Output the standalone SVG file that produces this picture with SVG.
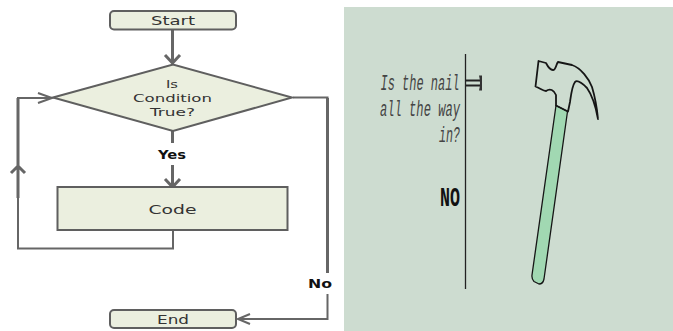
<svg xmlns="http://www.w3.org/2000/svg" width="673" height="331" viewBox="0 0 673 331">
<style>
.box{fill:#ebefdf;stroke:#5f5f5f;stroke-width:2}
.wire{fill:none;stroke:#666;stroke-width:2}
.thick{stroke-width:3}
.ft{font-family:"DejaVu Sans",Verdana,sans-serif;font-size:12.5px;fill:#333;text-anchor:middle}
.small{font-size:11px}
.yn{font-family:"DejaVu Sans",Verdana,sans-serif;font-size:11.5px;font-weight:bold;fill:#111;text-anchor:middle}
.mono{font-family:"Liberation Mono",monospace;font-size:22px;font-style:italic;fill:#444}
.ink{stroke:#161616;stroke-linejoin:round;stroke-linecap:round}
</style>
<rect width="673" height="331" fill="#fff"/>
<!-- flowchart connectors -->
<g id="connectors">
<path class="wire thick" d="M172.500 29V63M165 55L172.500 63L180 55"/>
<path class="wire thick" d="M172.500 131V143M172.500 165V186M165 179L172.500 187L180 179"/>
<path class="wire" d="M173 230V248.500H18V98H52M38 93L52 98L38 103"/>
<path class="wire thick" d="M18 198V98M11 173L18 166L25 173"/>
<path class="wire" d="M293 97.500H327.500V273M327.500 294V319H238M250 314L238 319L250 324"/>
<path class="wire thick" d="M327.500 98V273"/>
</g>
<!-- flowchart nodes -->
<g id="start">
<rect class="box" x="110" y="11" width="126" height="18.500" rx="4"/>
<text class="ft" x="173" y="25" textLength="44" lengthAdjust="spacingAndGlyphs">Start</text>
</g>
<g id="condition">
<polygon class="box" points="53,97.500 173,64.500 292,97.500 173,131"/>
<text class="ft small" x="172" y="88" textLength="12" lengthAdjust="spacingAndGlyphs">Is</text>
<text class="ft small" x="172.500" y="102" textLength="79" lengthAdjust="spacingAndGlyphs">Condition</text>
<text class="ft small" x="172.500" y="115.500" textLength="45" lengthAdjust="spacingAndGlyphs">True?</text>
</g>
<g id="yes"><text class="yn" x="172" y="159" textLength="28" lengthAdjust="spacingAndGlyphs">Yes</text></g>
<g id="code">
<rect class="box" x="57.500" y="187" width="230" height="43"/>
<text class="ft" x="172.500" y="214" textLength="48" lengthAdjust="spacingAndGlyphs">Code</text>
</g>
<g id="no"><text class="yn" x="320" y="288" textLength="24" lengthAdjust="spacingAndGlyphs">No</text></g>
<g id="end">
<rect class="box" x="110" y="310" width="126" height="18" rx="4"/>
<text class="ft" x="173" y="324" textLength="32" lengthAdjust="spacingAndGlyphs">End</text>
</g>
<!-- hammer and nail panel -->
<g id="panel">
<rect x="344" y="7" width="329" height="324" fill="#cddcd0"/>
<text class="mono" x="380.500" y="90" textLength="79" lengthAdjust="spacingAndGlyphs">Is the nail</text>
<text class="mono" x="380" y="116" textLength="80" lengthAdjust="spacingAndGlyphs">all the way</text>
<text class="mono" x="439" y="142" textLength="21" lengthAdjust="spacingAndGlyphs">in?</text>
<text x="440" y="206" textLength="20" lengthAdjust="spacingAndGlyphs" style="font-family:'Liberation Mono',monospace;font-size:28px;font-weight:bold;fill:#111">NO</text>
<path d="M465.500 54V289" fill="none" stroke="#222" stroke-width="1.300"/>
<path d="M466 80.500H481M466 85.500H481" fill="none" stroke="#222" stroke-width="1.800"/>
<path d="M479 75.500Q481 83 479 90.500L482 90.500V75.500Z" fill="#333"/>
</g>
<g id="hammer">
<path class="ink" d="M556 105.500L567.500 111.500L544 279Q543 284 539 284L534 281.500Q531.500 279 532 275Z" fill="#a1d8b2" stroke-width="1.300"/>
<path class="ink" d="M538.500 61L546 63C548 67 551 70 553 70C556 70 556 64 558 62L572 65C581 68 589 79 592 87C595 97 597 108 598 119C596 108 592 95 587 88C582 83 577 80 575 82C572 86 571 95 570 102L568 111.500L556 105.500V95C554 90 550 88 546 91C543 91 540 88 535.500 86.500Z" fill="none" stroke-width="1.800"/>
</g>
</svg>
